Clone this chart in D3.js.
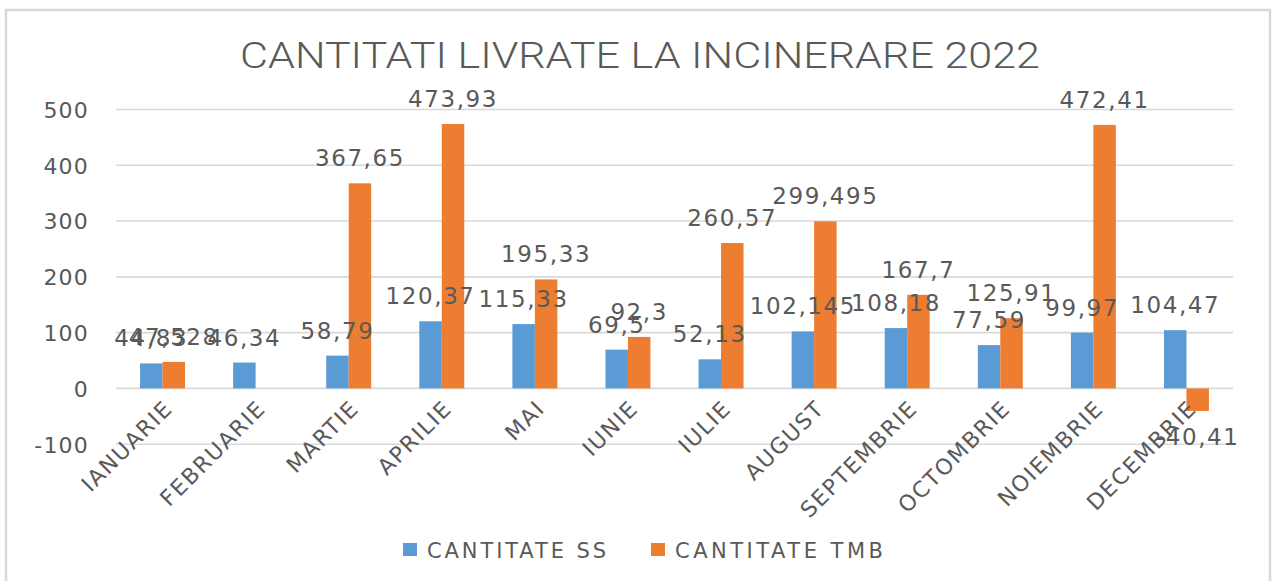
<!DOCTYPE html>
<html><head><meta charset="utf-8">
<script src="https://cdn.jsdelivr.net/npm/d3@7"></script>
<style>html,body{margin:0;padding:0;background:#fff;}svg{display:block;}</style>
</head><body>
<svg id="c" width="1278" height="581"></svg>
<script>
const title = "CANTITATI LIVRATE LA INCINERARE 2022";
const categories = ["IANUARIE","FEBRUARIE","MARTIE","APRILIE","MAI","IUNIE","IULIE","AUGUST","SEPTEMBRIE","OCTOMBRIE","NOIEMBRIE","DECEMBRIE"];
const seriesNames = ["CANTITATE SS","CANTITATE TMB"];
const ssValues = [44.83, 46.34, 58.79, 120.37, 115.33, 69.5, 52.13, 102.145, 108.18, 77.59, 99.97, 104.47];
const tmbValues = [47.528, null, 367.65, 473.93, 195.33, 92.3, 260.57, 299.495, 167.7, 125.91, 472.41, -40.41];
const ssLabels = ["44,83","46,34","58,79","120,37","115,33","69,5","52,13","102,145","108,18","77,59","99,97","104,47"];
const tmbLabels = ["47,528","","367,65","473,93","195,33","92,3","260,57","299,495","167,7","125,91","472,41","-40,41"];
const yTicks = [-100, 0, 100, 200, 300, 400, 500];
const colors = ["#5B9BD5", "#ED7D31"];

const svg = d3.select("#c");
const textColor = "#595959";

// outer border
svg.append("rect").attr("x", 6).attr("y", 10).attr("width", 1264).attr("height", 590)
  .attr("fill", "none").attr("stroke", "#d9d9d9").attr("stroke-width", 2.5);

svg.append("text").attr("x", 640).attr("y", 68).attr("text-anchor", "middle")
  .attr("font-family", "Roboto, Liberation Sans, Arial, sans-serif").attr("font-weight", 300).attr("font-size", 36)
  .attr("fill", textColor).attr("textLength", 800).attr("lengthAdjust", "spacingAndGlyphs")
  .text(title);

const y = d3.scaleLinear().domain([-100, 500]).range([444.2, 109.5]);
const x0 = d3.scaleBand().domain(categories).range([116, 1233]).paddingInner(0.517).paddingOuter(0.2585);
const x1 = d3.scaleBand().domain(seriesNames).range([0, x0.bandwidth()]);

// gridlines
const grid = svg.append("g");
grid.selectAll("line").data(yTicks).join("line")
  .attr("x1", 116).attr("x2", 1233)
  .attr("y1", d => y(d)).attr("y2", d => y(d))
  .attr("stroke", "#d9d9d9").attr("stroke-width", 1.6);

// y axis labels
const yAxis = d3.axisLeft(y).tickValues(yTicks).tickSize(0).tickPadding(0).tickFormat(d => String(d));
const ga = svg.append("g").attr("transform", "translate(89,0)").call(yAxis);
ga.select(".domain").remove();
ga.selectAll("text").attr("font-family", "DejaVu Sans, sans-serif").attr("font-size", 22)
  .attr("fill", textColor).attr("dy", "0.36em").attr("letter-spacing", 1.2);

// bars
const data = categories.map((c, i) => ({c, vals: [ssValues[i], tmbValues[i]], labs: [ssLabels[i], tmbLabels[i]]}));
const groups = svg.append("g").selectAll("g").data(data).join("g")
  .attr("transform", d => `translate(${x0(d.c)},0)`);
groups.selectAll("rect").data(d => d.vals.map((v, k) => ({v, k, s: seriesNames[k]})).filter(e => e.v !== null))
  .join("rect")
  .attr("x", e => x1(e.s)).attr("width", x1.bandwidth())
  .attr("y", e => y(Math.max(0, e.v))).attr("height", e => Math.abs(y(e.v) - y(0)))
  .attr("fill", e => colors[e.k]);

// data labels
groups.selectAll("text.lab").data(d => d.vals.map((v, k) => ({v, k, s: seriesNames[k], l: d.labs[k]})).filter(e => e.v !== null))
  .join("text").attr("class", "lab")
  .attr("x", e => x1(e.s) + x1.bandwidth() / 2)
  .attr("y", e => e.v >= 0 ? y(e.v) - 17 : y(e.v) + 34)
  .attr("text-anchor", "middle")
  .attr("font-family", "DejaVu Sans, sans-serif").attr("font-size", 23).attr("letter-spacing", 1.6)
  .attr("fill", textColor)
  .text(e => e.l);

// category labels
svg.append("g").selectAll("text").data(categories).join("text")
  .attr("transform", d => `translate(${x0(d) + x0.bandwidth() / 2 + 6},${y(0) + 16}) rotate(-45)`)
  .attr("text-anchor", "end").attr("dy", "0.35em")
  .attr("font-family", "DejaVu Sans, sans-serif").attr("font-size", 22).attr("letter-spacing", 1.6)
  .attr("fill", textColor)
  .text(d => d);

// legend
const lg = svg.append("g");
const legX = [403, 651];
const legW = [179, 208];
seriesNames.forEach((s, k) => {
  lg.append("rect").attr("x", legX[k]).attr("y", 543).attr("width", 14).attr("height", 13).attr("fill", colors[k]);
  lg.append("text").attr("x", legX[k] + 24).attr("y", 558)
    .attr("font-family", "DejaVu Sans, sans-serif").attr("font-size", 21).attr("fill", textColor)
    .attr("textLength", legW[k]).attr("lengthAdjust", "spacing")
    .text(s);
});
</script>
</body></html>
